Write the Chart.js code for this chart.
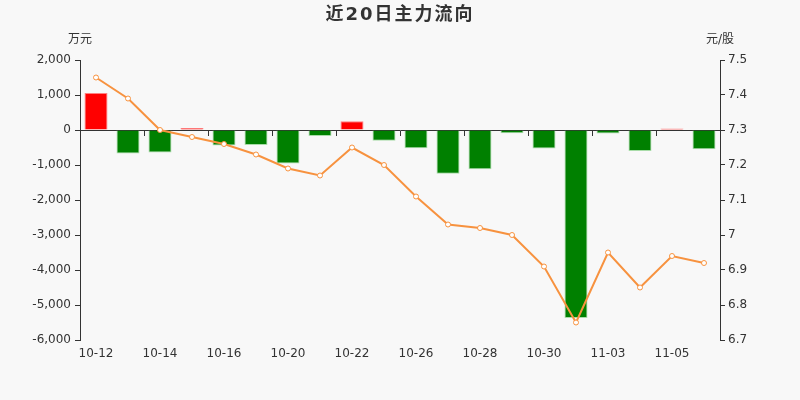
<!DOCTYPE html>
<html>
<head>
<meta charset="utf-8">
<script src="https://cdn.jsdelivr.net/npm/chart.js@4/dist/chart.umd.min.js"></script>
<style>
  body { margin: 0; background: #f8f8f8; font-family: "DejaVu Sans", "Noto Sans CJK SC", sans-serif; }
  #wrap { position: relative; width: 800px; height: 400px; }
  .txt { position: absolute; color: #333; white-space: nowrap; }
  #title { left: 0; width: 800px; top: 0; line-height: 27px; text-align: center; font-size: 18px; font-weight: bold; letter-spacing: 2px; }
  #unitL { left: 56px; width: 48px; top: 31px; line-height: 16px; text-align: center; font-size: 12px; }
  #unitR { left: 696px; width: 48px; top: 31px; line-height: 16px; text-align: center; font-size: 12px; }
</style>
</head>
<body>
<div id="wrap">
  <canvas id="my-chart" width="800" height="400"></canvas>
  <div class="txt" id="title">近20日主力流向</div>
  <div class="txt" id="unitL">万元</div>
  <div class="txt" id="unitR">元/股</div>
</div>
<script>
var dates = ["10-12", "10-13", "10-14", "10-15", "10-16", "10-19", "10-20", "10-21", "10-22", "10-23",
             "10-26", "10-27", "10-28", "10-29", "10-30", "11-02", "11-03", "11-04", "11-05", "11-06"];
// main net flow, 万元
var flows = [1060, -670, -640, 60, -440, -430, -960, -170, 250, -310,
             -520, -1250, -1120, -90, -530, -5370, -100, -600, 40, -550];
// close price, 元/股
var prices = [7.45, 7.39, 7.30, 7.28, 7.26, 7.23, 7.19, 7.17, 7.25, 7.20,
              7.11, 7.03, 7.02, 7.00, 6.91, 6.75, 6.95, 6.85, 6.94, 6.92];

var tickFont = { family: "DejaVu Sans", size: 12 };

var ctx = document.getElementById("my-chart");
var myChart = new Chart(ctx, {
  data: {
    labels: dates,
    datasets: [
      {
        type: 'line',
        data: prices,
        yAxisID: 'y1',
        order: 0,
        borderColor: '#f7923f',
        borderWidth: 2,
        pointRadius: 2.5,
        pointBorderWidth: 1,
        pointBackgroundColor: '#ffffff',
        pointBorderColor: '#f7923f',
        tension: 0
      },
      {
        type: 'bar',
        data: flows,
        yAxisID: 'y',
        order: 1,
        barPercentage: 0.72,
        categoryPercentage: 1,
        backgroundColor: flows.map(function(v) { return v >= 0 ? '#ff0000' : '#008000'; }),
        borderColor: flows.map(function(v) { return v >= 0 ? '#ff8080' : '#a8dca8'; }),
        borderWidth: 1
      }
    ]
  },
  options: {
    responsive: false,
    animation: false,
    layout: { padding: { top: 60, left: 0, right: 0, bottom: 0 } },
    plugins: { legend: { display: false }, tooltip: { enabled: false }, title: { display: false } },
    scales: {
      x: {
        position: 'bottom',
        grid: { display: false, drawTicks: false },
        border: { display: false },
        ticks: {
          autoSkip: false, maxRotation: 0, color: '#333', font: tickFont, padding: 7,
          callback: function(v, i) { return i % 2 === 0 ? dates[i] : ''; }
        },
        afterFit: function(s) { s.height = 60; }
      },
      x2: {
        position: { y: 0 },
        offset: true,
        grid: {
          drawOnChartArea: false, drawTicks: true, tickLength: 5, offset: true,
          color: function(c) { return c.index % 2 === 0 ? '#333' : 'rgba(0,0,0,0)'; }
        },
        border: { display: true, color: '#333', width: 1 },
        ticks: { display: true, autoSkip: false, maxRotation: 0, font: { size: 1 }, callback: function() { return ''; } }
      },
      y: {
        position: 'left',
        min: -6000, max: 2000,
        grid: { drawOnChartArea: false, drawTicks: true, tickLength: 5, color: '#333' },
        border: { display: true, color: '#333' },
        ticks: {
          stepSize: 1000, color: '#333', font: tickFont, padding: 4,
          callback: function(v) { return v.toLocaleString('en-US'); }
        },
        afterFit: function(s) { s.width = 80; }
      },
      y1: {
        position: 'right',
        min: 6.7, max: 7.5,
        grid: { drawOnChartArea: false, drawTicks: true, tickLength: 5, color: '#333' },
        border: { display: true, color: '#333' },
        ticks: {
          stepSize: 0.1, color: '#333', font: tickFont, padding: 3,
          callback: function(v) { return String(Number(v.toFixed(1))); }
        },
        afterFit: function(s) { s.width = 80; }
      }
    }
  }
});
</script>
</body>
</html>
